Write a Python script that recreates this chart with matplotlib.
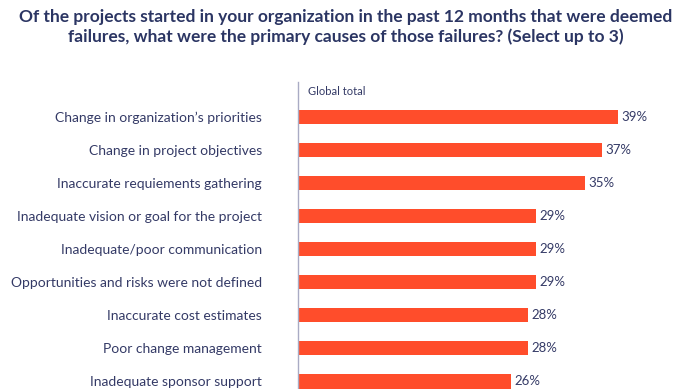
import numpy as np
import matplotlib
matplotlib.use('Agg')
import matplotlib.pyplot as plt

plt.rcParams['font.family'] = ['Lato', 'DejaVu Sans']

causes = [
    "Change in organization\u2019s priorities",
    "Change in project objectives",
    "Inaccurate requiements gathering",
    "Inadequate vision or goal for the project",
    "Inadequate/poor communication",
    "Opportunities and risks were not defined",
    "Inaccurate cost estimates",
    "Poor change management",
    "Inadequate sponsor support",
]
values = [39, 37, 35, 29, 29, 29, 28, 28, 26]
series_name = "Global total"
title = ("Of the projects started in your organization in the past 12 months that were deemed\n"
         "failures, what were the primary causes of those failures? (Select up to 3)")

textcol = '#343a66'
barcol = '#ff4d2b'

fig = plt.figure(figsize=(6.92, 3.89), dpi=100)
ax = fig.add_axes([298/692, 0, 1 - 298/692, 1 - 82/389])

ypos = np.arange(len(causes))
ax.barh(ypos, values, height=0.45, color=barcol)
for y, v in zip(ypos, values):
    ax.text(v + 0.4, y, f"{v}%", va='center', ha='left', fontsize=9.5, color=textcol)

ax.set_xlim(0, 48)
ax.set_ylim(8.24, -1.06)
ax.set_yticks(ypos)
ax.set_yticklabels(causes, fontsize=10, color=textcol)
ax.tick_params(axis='y', length=0, pad=26)
ax.set_xticks([])
for s in ['top', 'right', 'bottom']:
    ax.spines[s].set_visible(False)
ax.spines['left'].set_color('#a9abc4')
ax.spines['left'].set_linewidth(1)

ax.text(1.2, -0.76, series_name, fontsize=8, color=textcol, va='center', ha='left')

fig.text(0.5, 1 - 27/389, title, ha='center', va='center', fontsize=12.5,
         fontweight='bold', color='#2b3563', linespacing=1.25)

fig.savefig('out.png', dpi=100)
